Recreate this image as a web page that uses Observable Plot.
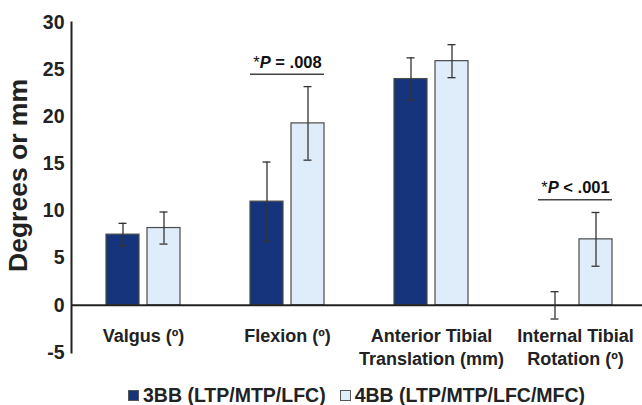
<!DOCTYPE html>
<html><head><meta charset="utf-8">
<script src="https://cdn.jsdelivr.net/npm/d3@7"></script>
<script src="https://cdn.jsdelivr.net/npm/@observablehq/plot@0.6"></script>
<style>
body{margin:0;background:#fff;font-family:"Liberation Sans",Arial,sans-serif;}
#legend{width:642px;box-sizing:border-box;padding-left:71px;margin-top:13px;display:flex;justify-content:center;gap:14px;font-weight:bold;font-size:19.5px;line-height:20px;color:#222;}
.item{display:flex;align-items:center;}
.sw{width:11px;height:11px;margin-right:4px;box-sizing:border-box;border:1px solid #555;}
</style></head><body><div id="chart"></div><div id="legend"></div>
<script>
const categories = ["Valgus (º)", "Flexion (º)", "Anterior Tibial\nTranslation (mm)", "Internal Tibial\nRotation (º)"];
const seriesKeys = ["3BB", "4BB"];
const seriesLabels = ["3BB (LTP/MTP/LFC)", "4BB (LTP/MTP/LFC/MFC)"];
const seriesColors = ["#15347c", "#deedf9"];
const means3BB = [7.5, 11.0, 24.0, 0];
const err3BB = [1.2, 4.2, 2.25, 1.45];
const means4BB = [8.2, 19.3, 25.9, 7.0];
const err4BB = [1.7, 3.9, 1.75, 2.85];
const yTicks = [-5, 0, 5, 10, 15, 20, 25, 30];
const annotCategories = [categories[1], categories[3]];
const annotY = [24.5, 11.2];
const annotLabels = ["*P = .008", "*P < .001"];

const rows = categories.flatMap((c, i) => [
  {category: c, series: seriesKeys[0], mean: means3BB[i], err: err3BB[i]},
  {category: c, series: seriesKeys[1], mean: means4BB[i], err: err4BB[i]}
]);
const annots = annotCategories.map((c, i) => ({category: c, y: annotY[i], label: annotLabels[i]}));

const chart = Plot.plot({
  width: 642,
  height: 372,
  marginLeft: 71,
  marginRight: -5,
  marginTop: 22,
  marginBottom: 20,
  style: {fontFamily: "Liberation Sans, Arial, sans-serif", color: "#222", background: "#fff"},
  fx: {domain: categories, padding: 0, axis: null, label: null},
  x: {domain: seriesKeys, paddingInner: 0.205, paddingOuter: 0.837, axis: null},
  y: {domain: [-5, 30], axis: null},
  color: {domain: seriesKeys, range: seriesColors},
  marks: [
    Plot.barY(rows, {fx: "category", x: "series", y: "mean", fill: "series", stroke: "#4a4a4a", strokeWidth: 1.2}),
    Plot.ruleY([0], {stroke: "#222", strokeWidth: 2}),
    Plot.ruleX(rows, {fx: "category", x: "series", y1: d => d.mean - d.err, y2: d => d.mean + d.err, stroke: "#333", strokeWidth: 1.3}),
    Plot.tickY(rows, {fx: "category", x: "series", y: d => d.mean - d.err, stroke: "#333", strokeWidth: 1.3, insetLeft: 12.5, insetRight: 12.5}),
    Plot.tickY(rows, {fx: "category", x: "series", y: d => d.mean + d.err, stroke: "#333", strokeWidth: 1.3, insetLeft: 12.5, insetRight: 12.5}),
    Plot.ruleY(annots, {fx: "category", y: "y", stroke: "#444", strokeWidth: 1.5, insetLeft: 35, insetRight: 35}),
    Plot.text(annots, {fx: "category", y: "y", text: "label", dy: -12, fontSize: 16.5, fontWeight: "bold", fill: "#111"}),
    Plot.frame({anchor: "left", facetAnchor: "left", stroke: "#222", strokeWidth: 2}),
    Plot.axisY({ticks: yTicks, tickSize: 0, tickPadding: 7, fontSize: 19.5, fontWeight: "bold", tickFormat: d => String(d),
      label: "Degrees or mm", labelAnchor: "center", labelArrow: "none", labelOffset: 63}),
    Plot.axisFx({anchor: "bottom", tickSize: 0, tickPadding: 0, dy: -27, fontSize: 18, fontWeight: "bold", lineHeight: 1.27, label: null})
  ]
});
document.getElementById("chart").appendChild(chart);

// larger y-axis title, centred a little higher as in the reference
d3.select(chart).selectAll('g[aria-label="y-axis label"]')
  .attr("transform", function() { return (this.getAttribute("transform") || "") + " translate(0,-12)"; })
  .selectAll("text").attr("font-size", 26.5);
// bold italic P in annotations
d3.select(chart).selectAll("text").filter(function() { return annotLabels.includes(this.textContent); }).each(function() {
  const t = this.textContent;
  const sel = d3.select(this);
  sel.text(null);
  sel.append("tspan").attr("font-weight", "normal").text(t.slice(0, 1));
  sel.append("tspan").attr("font-style", "italic").text(t.slice(1, 2));
  sel.append("tspan").text(t.slice(2));
});

const legend = d3.select("#legend");
seriesLabels.forEach((lab, i) => {
  const it = legend.append("div").attr("class", "item");
  it.append("div").attr("class", "sw").style("background", seriesColors[i]);
  it.append("span").text(lab);
});
</script></body></html>
